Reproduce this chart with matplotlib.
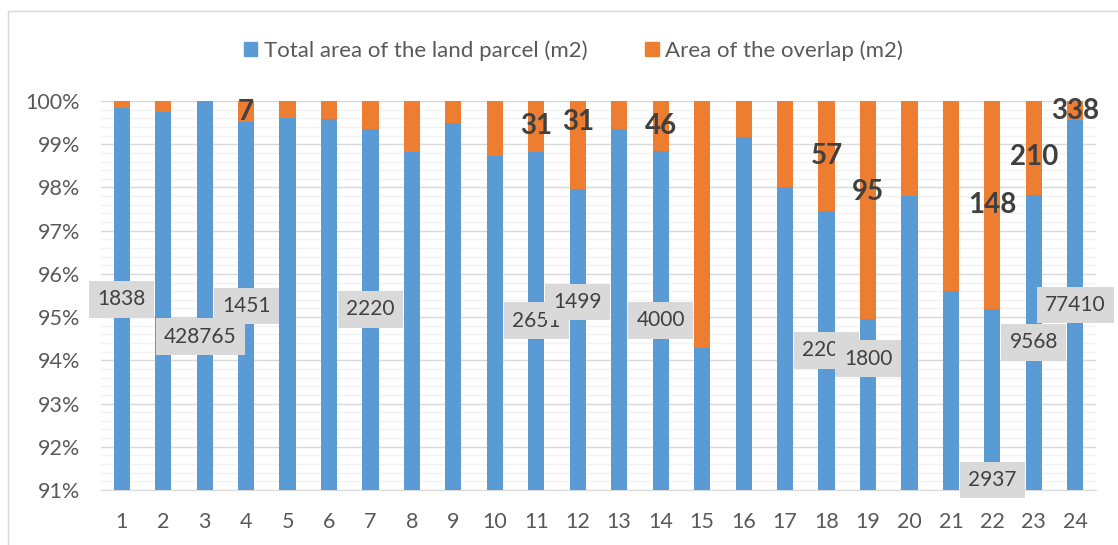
import matplotlib.pyplot as plt
import matplotlib.patches as mpatches
from matplotlib.ticker import MultipleLocator, FuncFormatter
import numpy as np

plt.rcParams['font.family'] = ['Lato', 'DejaVu Sans']

# Share of each parcel (in %)
parcels = [str(i) for i in range(1, 25)]
total_share = [99.83, 99.74, 100.0, 99.51, 99.61, 99.59, 99.36, 98.81, 99.48, 98.73, 98.83, 97.96,
               99.35, 98.85, 94.28, 99.17, 98.02, 97.46, 94.96, 97.80, 95.61, 95.18, 97.83, 99.56]
overlap_share = [0.17, 0.26, 0.0, 0.49, 0.39, 0.41, 0.64, 1.19, 0.52, 1.27, 1.17, 2.04,
                 0.65, 1.15, 5.72, 0.83, 1.98, 2.54, 5.04, 2.20, 4.39, 4.82, 2.17, 0.44]

# data labels (m2)
total_labels = ["1838", "", "428765", "1451", "", "", "2220", "", "", "", "2651", "1499",
                "", "4000", "", "", "", "2200", "1800", "", "", "2937", "9568", "77410"]
overlap_labels = ["", "", "", "7", "", "", "", "", "", "", "31", "31",
                  "", "46", "", "", "", "57", "95", "", "", "148", "210", "338"]

series_names = ["Total area of the land parcel (m2)", "Area of the overlap (m2)"]
blue = "#5B9BD5"
orange = "#ED7D31"
ymin = 91

# labels that were dragged away from the segment centre in the original
total_nudge = {2: (-0.1, -0.95), 11: (0, 0.87), 18: (0, 1.06), 21: (0, -1.86)}
overlap_nudge = {11: (0, 0.54), 18: (0, 0.42), 22: (0, -0.2)}

fig = plt.figure(figsize=(11.18, 5.45), dpi=100)
ax = fig.add_axes([101 / 1118, 55 / 545, 995 / 1118, 389 / 545])

x = np.arange(1, len(parcels) + 1)
ax.bar(x, np.array(total_share) - ymin, bottom=ymin, width=0.39, color=blue, zorder=3,
       label=series_names[0])
ax.bar(x, overlap_share, bottom=total_share, width=0.39, color=orange, zorder=3,
       label=series_names[1])

for i in range(len(parcels)):
    if total_labels[i]:
        dx, dy = total_nudge.get(i, (0, 0))
        ax.text(x[i] + dx, (ymin + total_share[i]) / 2 + dy, total_labels[i],
                ha="center", va="center", fontsize=15, color="#404040", zorder=5,
                bbox=dict(boxstyle="square,pad=0.4", fc="#D9D9D9", ec="none"))
    if overlap_labels[i]:
        dx, dy = overlap_nudge.get(i, (0, 0))
        ax.text(x[i] + dx, total_share[i] + overlap_share[i] / 2 + dy, overlap_labels[i],
                ha="center", va="center", fontsize=20, fontweight="bold",
                color="#404040", zorder=6)

ax.set_xlim(0.5, len(parcels) + 0.5)
ax.set_ylim(ymin, 100)
ax.set_xticks(x)
ax.set_xticklabels(parcels)
ax.yaxis.set_major_locator(MultipleLocator(1))
ax.yaxis.set_minor_locator(MultipleLocator(0.2))
ax.yaxis.set_major_formatter(FuncFormatter(lambda v, p: f"{v:.0f}%"))
ax.grid(axis="y", which="major", color="#D9D9D9", lw=1, zorder=0)
ax.grid(axis="y", which="minor", color="#F2F2F2", lw=1, zorder=0)
ax.tick_params(axis="both", which="both", length=0, labelsize=15.5, colors="#595959")
ax.tick_params(axis="x", pad=16)
ax.tick_params(axis="y", pad=15)
for s in ["top", "right", "left"]:
    ax.spines[s].set_visible(False)
ax.spines["bottom"].set_color("#D9D9D9")

handles = [mpatches.Patch(color=blue), mpatches.Patch(color=orange)]
leg = fig.legend(handles, series_names, loc="center", bbox_to_anchor=(0.513, 0.907), ncol=2,
                 frameon=False, fontsize=16, handlelength=0.6, handleheight=0.6,
                 handletextpad=0.3, columnspacing=2.6)
for t in leg.get_texts():
    t.set_color("#595959")

# chart area border
fig.patches.append(mpatches.Rectangle((8 / 1118, -0.05), 1.1, 1.05 - 11 / 545, transform=fig.transFigure,
                                      fill=False, ec="#D9D9D9", lw=1))

fig.savefig("out.png", dpi=100)
